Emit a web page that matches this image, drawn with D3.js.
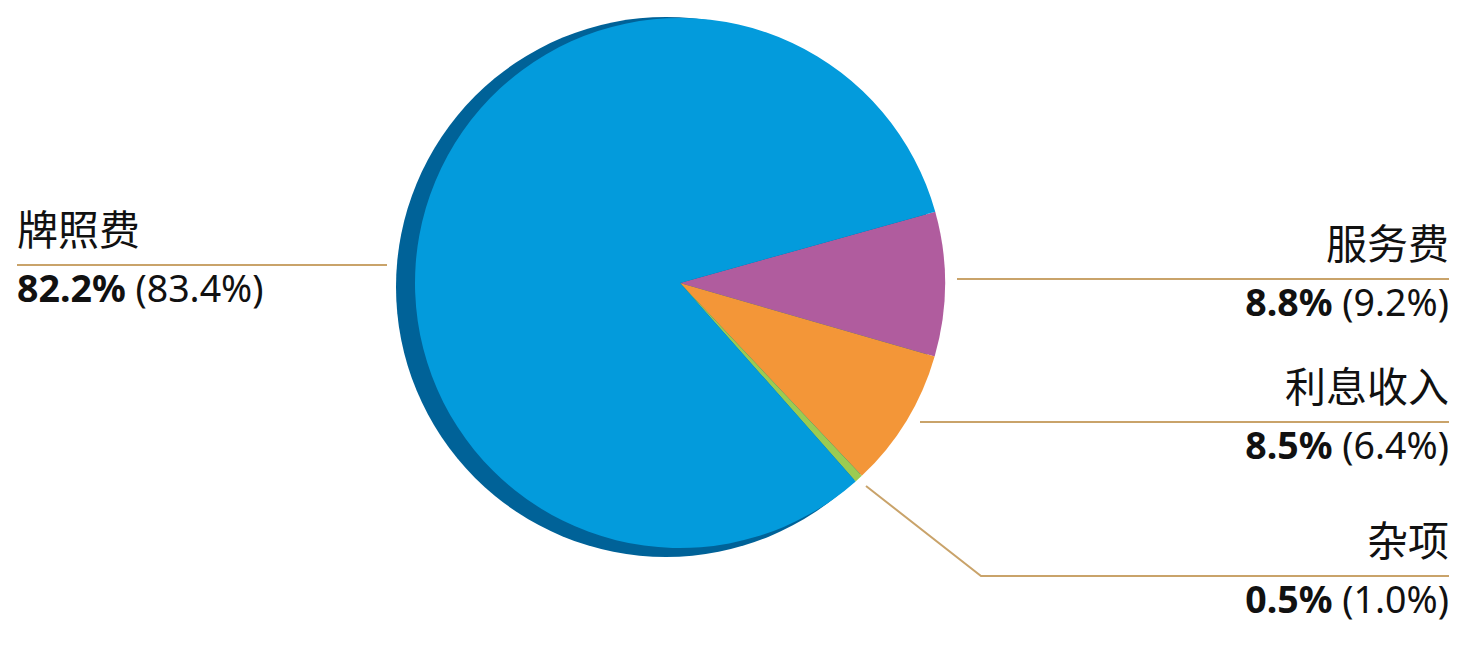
<!DOCTYPE html>
<html><head><meta charset="utf-8">
<script src="https://cdn.jsdelivr.net/npm/d3@7"></script>
<style>
html,body{margin:0;padding:0;background:#fff;}
svg{display:block;}
text{font-family:"Noto Sans","Noto Sans CJK SC",sans-serif;fill:#111;}
</style></head>
<body><svg id="c" width="1477" height="647"></svg>
<script>
// Data
const categories = ["服务费", "利息收入", "杂项", "牌照费"];
const shares = [8.8, 8.5, 0.5, 82.2];          // current year %
const priorShares = [9.2, 6.4, 1.0, 83.4];     // previous year %
const colors = ["#B05C9E", "#F39638", "#9BCB52", "#039BDC"];

const W = 1477, H = 647;
const cx = 680, cy = 283, R = 265;
const startDeg = 74.4;

const svg = d3.select("#c");

// shadow
svg.append("circle").attr("cx", cx - 14).attr("cy", cy + 4).attr("r", R + 5).attr("fill", "#006298");

const pie = d3.pie().sort(null).value(d => d.v)
  .startAngle(startDeg * Math.PI / 180)
  .endAngle(startDeg * Math.PI / 180 + 2 * Math.PI);
const data = categories.map((c, i) => ({c, v: shares[i], p: priorShares[i], col: colors[i]}));
const arcs = pie(data);
const arc = d3.arc().innerRadius(0).outerRadius(R);

const g = svg.append("g").attr("transform", `translate(${cx},${cy})`);
g.selectAll("path").data(arcs).enter().append("path")
  .attr("d", arc).attr("fill", d => d.data.col);

// label layout (annotation positions)
const layout = [
  {points: [[957, 279], [1449, 279]], anchor: "end", x: 1449, y: 279},
  {points: [[920, 422], [1449, 422]], anchor: "end", x: 1449, y: 422},
  {points: [[866, 486], [981, 576], [1449, 576]], anchor: "end", x: 1449, y: 576},
  {points: [[387, 265], [17, 265]], anchor: "start", x: 17, y: 265}
];
const line = d3.line();
arcs.forEach((a, i) => {
  const L = layout[i];
  svg.append("path").attr("d", line(L.points)).attr("fill", "none")
    .attr("stroke", "#C9A36A").attr("stroke-width", 2);
  svg.append("text").attr("x", L.x).attr("y", L.y - 20).attr("text-anchor", L.anchor)
    .style("font-size", "41px").text(a.data.c);
  const t = svg.append("text").attr("x", L.x).attr("y", L.y + 37).attr("text-anchor", L.anchor)
    .style("font-size", "37.5px");
  t.append("tspan").style("font-weight", "bold").text(d3.format(".1f")(a.data.v) + "%");
  t.append("tspan").text(" (" + d3.format(".1f")(a.data.p) + "%)");
});
</script></body></html>
